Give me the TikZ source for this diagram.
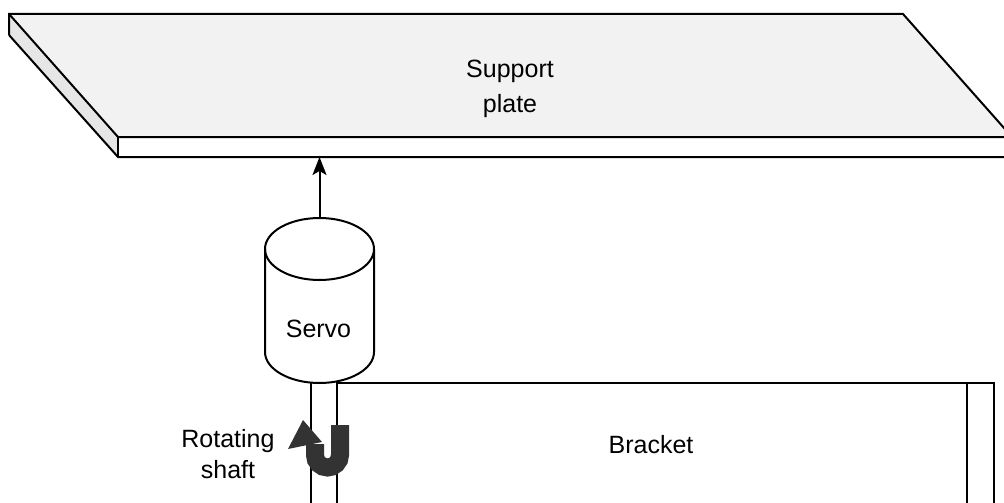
\documentclass[tikz,border=0pt]{standalone}
\usepackage{fontspec}
\setmainfont{Liberation Sans}
\usetikzlibrary{arrows.meta}
\definecolor{topface}{HTML}{F2F2F2}
\definecolor{sideface}{HTML}{E6E6E6}
\definecolor{turngray}{HTML}{333333}
\begin{document}
\begin{tikzpicture}[x=1pt,y=-1pt,
  outline/.style={draw=black,line width=2pt,line join=miter},
  label/.style={font=\fontsize{25}{31}\selectfont,align=center,inner sep=0pt,anchor=base},
  push/.style={draw=black,line width=2pt,-{Stealth[length=18pt,width=14pt,inset=4pt]}}]
\useasboundingbox (0,0) rectangle (1004,503);
\begin{scope}
\clip (0,0) rectangle (1004,503);
% support plate: top face, left edge face, front edge face
\fill[topface] (9,14) -- (903,14) -- (1012,137) -- (118,137) -- cycle;
\fill[sideface] (9,14) -- (118,137) -- (118,157) -- (9,35) -- cycle;
\fill[white] (118,137) rectangle (1012,157);
\draw[outline] (9,35) -- (9,14) -- (903,14) -- (1012,137);
\draw[outline] (9,14) -- (118,137) -- (1012,137);
\draw[outline] (9,35) -- (118,157) -- (1012,157);
\draw[outline] (118,137) -- (118,157);
% bracket
\draw[outline] (337,503) -- (337,383) -- (994,383) -- (994,503);
\draw[outline] (967,383) -- (967,503);
% shaft
\draw[outline] (311,383) -- (311,503);
\end{scope}
% multi-line labels are placed by the baseline of their last line
\node[label,font=\fontsize{25}{35}\selectfont] (plate) at (510,112) {Support\\plate};
\coordinate (plateunder) at (319.5,157);
% servo body
\filldraw[outline,fill=white] (265,249) -- (265,352) arc[start angle=180,end angle=360,x radius=54.5,y radius=-31] -- (374,249)
  arc[start angle=0,end angle=180,x radius=54.5,y radius=-31] -- cycle;
\draw[outline] (265,249) arc[start angle=180,end angle=360,x radius=54.5,y radius=-31];
\node[inner sep=0pt,minimum width=109pt,minimum height=165pt] (servo) at (319.5,300.5) {};
\node[label] (servotext) at (318.5,337) {Servo};
\draw[push] (servo.north) -- (plateunder);
% rotation symbol on the shaft
\draw[turngray,line width=18pt,line cap=butt] (340,425) -- (340,455) arc[start angle=0,end angle=180,radius=12.5] -- (315,444);
\fill[turngray] (303,420) -- (288,449) -- (322,442) -- cycle;
\node[label] (shaft) at (228,478) {Rotating\\shaft};
\node[label] (bracket) at (651,453) {Bracket};
\end{tikzpicture}
\end{document}
